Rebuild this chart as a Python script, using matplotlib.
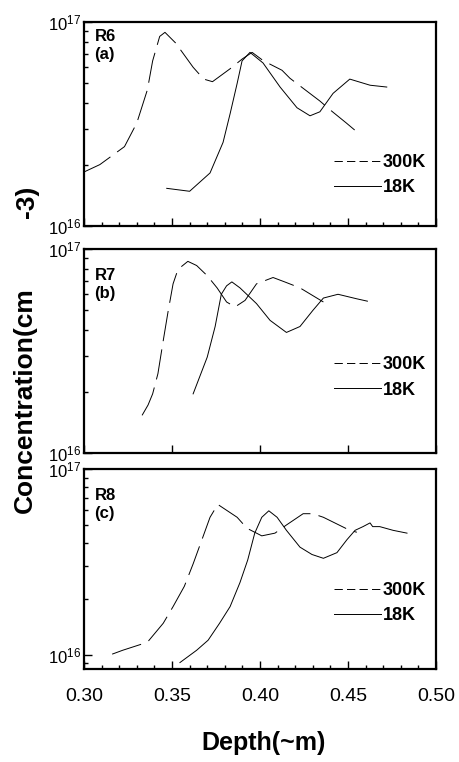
import numpy as np
import matplotlib
matplotlib.use('Agg')
import matplotlib.pyplot as plt
from matplotlib import font_manager
from matplotlib.lines import Line2D
from matplotlib.ticker import LogLocator, NullFormatter, MultipleLocator

# narrow arial-like font if we have it
fam = 'Liberation Sans'
try:
    font_manager.findfont('Liberation Sans Narrow', fallback_to_default=False)
    fam = 'Liberation Sans Narrow'
except Exception:
    pass
plt.rcParams['font.family'] = [fam, 'DejaVu Sans']
plt.rcParams['lines.scale_dashes'] = False

# depth (um) and concentration (1e16 cm^-3)
# R6
a_x300 = [0.300, 0.309, 0.323, 0.330, 0.336, 0.339, 0.343, 0.346, 0.352, 0.362, 0.368,
          0.373, 0.383, 0.390, 0.3955, 0.402, 0.4125, 0.417, 0.434, 0.440, 0.449, 0.457]
a_y300 = [1.84, 2.0, 2.45, 3.2, 4.65, 6.45, 8.5, 8.9, 7.9, 6.0, 5.25,
          5.1, 5.9, 6.6, 7.1, 6.45, 5.8, 5.3, 4.1, 3.7, 3.2, 2.8]
a_x18 = [0.347, 0.360, 0.3716, 0.379, 0.383, 0.387, 0.3898, 0.3943, 0.4017, 0.4114,
         0.421, 0.4284, 0.434, 0.4415, 0.451, 0.4625, 0.472]
a_y18 = [1.53, 1.48, 1.82, 2.57, 3.55, 5.0, 6.45, 7.1, 6.3, 4.8,
         3.8, 3.47, 3.63, 4.47, 5.25, 4.9, 4.8]
# R7
b_x300 = [0.333, 0.3364, 0.339, 0.342, 0.345, 0.3477, 0.3506, 0.3534, 0.359, 0.364,
          0.370, 0.3756, 0.381, 0.3858, 0.3915, 0.398, 0.4074, 0.414, 0.4227, 0.436]
b_y300 = [1.53, 1.72, 1.95, 2.45, 3.55, 4.9, 6.75, 7.95, 8.7, 8.3,
          7.4, 6.45, 5.5, 5.2, 5.6, 6.75, 7.25, 6.9, 6.45, 5.5]
b_x18 = [0.362, 0.370, 0.3745, 0.378, 0.381, 0.384, 0.3886, 0.398, 0.4057, 0.415,
         0.4227, 0.430, 0.436, 0.4443, 0.455, 0.461]
b_y18 = [1.95, 2.95, 4.17, 6.0, 6.6, 6.9, 6.45, 5.4, 4.47, 3.9,
         4.17, 5.0, 5.75, 6.0, 5.7, 5.55]
# R8
c_x300 = [0.316, 0.322, 0.336, 0.345, 0.3506, 0.357, 0.362, 0.367, 0.3716, 0.376, 0.381,
          0.387, 0.3926, 0.401, 0.4085, 0.415, 0.4245, 0.430, 0.436, 0.451, 0.455]
c_y300 = [1.01, 1.06, 1.17, 1.48, 1.82, 2.34, 3.09, 4.17, 5.5, 6.45, 6.0,
          5.5, 4.8, 4.37, 4.52, 5.0, 5.75, 5.75, 5.5, 4.68, 4.57]
c_x18 = [0.3545, 0.364, 0.3705, 0.377, 0.383, 0.3886, 0.393, 0.397, 0.401, 0.405, 0.4097,
         0.415, 0.4227, 0.4295, 0.436, 0.4437, 0.4494, 0.454, 0.4585, 0.4625, 0.464,
         0.468, 0.4756, 0.4835]
c_y18 = [0.91, 1.06, 1.2, 1.48, 1.82, 2.45, 3.24, 4.52, 5.5, 5.96, 5.5,
         4.68, 3.8, 3.47, 3.31, 3.55, 4.17, 4.68, 4.9, 5.13, 4.9,
         4.9, 4.68, 4.52]

samples = ['R6', 'R7', 'R8']
tags = ['(a)', '(b)', '(c)']
temps = ['300K', '18K']
xticks = [0.30, 0.35, 0.40, 0.45, 0.50]

panels = [(a_x300, a_y300, a_x18, a_y18),
          (b_x300, b_y300, b_x18, b_y18),
          (c_x300, c_y300, c_x18, c_y18)]
rects = [[0.183, 0.7034, 0.767, 0.2677],
         [0.183, 0.4055, 0.767, 0.2677],
         [0.183, 0.1220, 0.767, 0.2625]]
ylims = [(1e16, 1e17), (1e16, 1e17), (8.4e15, 1e17)]
lab_y = [0.965, 0.905, 0.905]
leg_y = [0.25, 0.37, 0.33]

fig = plt.figure(figsize=(4.59, 7.62), dpi=100)

for i, (x3, y3, x1, y1) in enumerate(panels):
    ax = fig.add_axes(rects[i])
    ax.plot(x3, np.array(y3) * 1e16, color='black', lw=0.7, dashes=(22, 6))
    ax.plot(x1, np.array(y1) * 1e16, color='black', lw=0.7)
    ax.set_yscale('log')
    ax.set_xlim(0.30, 0.50)
    ax.set_ylim(*ylims[i])
    ax.set_xticks(xticks)
    ax.yaxis.set_major_locator(LogLocator(base=10, numticks=5))
    ax.yaxis.set_minor_locator(LogLocator(base=10, subs=np.arange(2, 10), numticks=10))
    ax.yaxis.set_minor_formatter(NullFormatter())
    if i != 1:
        ax.xaxis.set_minor_locator(MultipleLocator(0.01))
    if i < 2:
        ax.tick_params(axis='x', labelbottom=False)
    else:
        ax.set_xticklabels(['%.2f' % t for t in xticks])
    ax.tick_params(which='both', direction='in', top=False, right=False, width=1.0)
    ax.tick_params(which='major', length=6)
    ax.tick_params(which='minor', length=3)
    ax.tick_params(axis='x', labelsize=14, pad=14)
    ax.tick_params(axis='y', labelsize=12, pad=2)
    for s in ax.spines.values():
        s.set_linewidth(1.6)

    ax.text(0.03, lab_y[i], samples[i] + '\n' + tags[i], transform=ax.transAxes,
            ha='left', va='top', fontsize=12, fontweight='bold', linespacing=1.25)

    h = [Line2D([], [], color='black', lw=0.7, dashes=(6, 3)),
         Line2D([], [], color='black', lw=0.7)]
    ax.legend(h, temps, loc='center left', bbox_to_anchor=(0.69, leg_y[i]),
              frameon=False, handlelength=2.6, handletextpad=0.1,
              labelspacing=0.45, borderaxespad=0,
              prop={'size': 13, 'weight': 'bold'})

fig.text(0.055, 0.327, 'Concentration(cm', rotation=90, ha='center', va='bottom',
         fontsize=19, fontweight='bold')
fig.text(0.058, 0.714, '-3)', rotation=90, ha='center', va='bottom',
         fontsize=19, fontweight='bold')
fig.text(0.574, 0.025, 'Depth(~m)', ha='center', va='center',
         fontsize=18, fontweight='bold')

fig.savefig('out.png', dpi=100)
